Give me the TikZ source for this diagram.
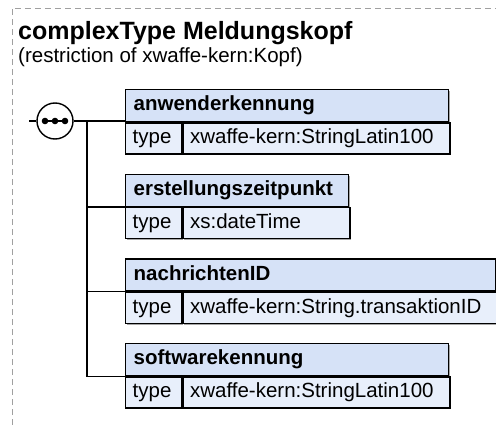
\documentclass[tikz,border=0pt]{standalone}
\usepackage{fontspec}
\setmainfont{Liberation Sans}
\usepackage{tikz}
\usetikzlibrary{positioning,shadows}
\usepackage{xcolor}
\definecolor{azulcab}{RGB}{214,226,247}
\definecolor{azultipo}{RGB}{232,239,251}
\definecolor{marco}{RGB}{160,160,160}

\tikzset{
  cabecera/.style={draw, line width=1.4pt, fill=azulcab, anchor=north west,
    minimum height=32pt, inner xsep=8pt, inner ysep=0pt, align=left,
    text height=15pt, text depth=4.5pt,
    font=\bfseries\fontsize{20.5}{24}\selectfont,
    general shadow={fill=gray!70, shadow xshift=1.2pt, shadow yshift=-1.2pt}},
  celda/.style={draw, line width=1.4pt, fill=azultipo, anchor=north west,
    minimum height=31pt, inner xsep=7pt, inner ysep=0pt, align=left,
    text height=15pt, text depth=4.5pt,
    font=\fontsize{20.5}{24}\selectfont,
    general shadow={fill=gray!70, shadow xshift=1.2pt, shadow yshift=-1.2pt}},
  linea/.style={line width=1.4pt}
}

\begin{document}
\begin{tikzpicture}[x=1pt,y=-1pt]
  \useasboundingbox (0,0) rectangle (496,425);
  % Marco punteado
  \draw[marco, line width=0.9pt, dash pattern=on 6pt off 4pt] (12,425) -- (12,8) -- (496,8);

  % Titulo
  \node[anchor=base west, inner sep=0pt, font=\bfseries\fontsize{25}{30}\selectfont] (titulo) at (18,40) {complexType Meldungskopf};
  \node[anchor=base west, inner sep=0pt, font=\fontsize{20.5}{24}\selectfont] (subtitulo) at (18,63) {(restriction of xwaffe-kern:Kopf)};

  % Secuencia
  \coordinate (ini) at (29,121);
  \node[draw, circle, linea, fill=white, minimum size=36pt, inner sep=0pt] (sec) at (55,121) {};
  \draw[linea] ([xshift=-13pt]sec.center) -- ([xshift=13pt]sec.center);
  \foreach \dx in {-10,0,10}
    \fill ([xshift=\dx pt]sec.center) circle (3.3pt);
  \coordinate (bus) at (87,121);

  % Elementos
  \foreach \etiq/\tipo/\ancho [count=\i] in {
      anwenderkennung/xwaffe-kern:StringLatin100/323,
      erstellungszeitpunkt/xs:dateTime/223,
      nachrichtenID/xwaffe-kern:String.transaktionID/370,
      softwarekennung/xwaffe-kern:StringLatin100/323} {
    \pgfmathsetmacro\y{89+84.67*(\i-1)}
    \pgfmathsetmacro\anchoa{\ancho-16}
    \pgfmathsetmacro\anchob{\ancho-56-14}
    \node[cabecera, text width=\anchoa pt] (h\i) at (125,\y) {\etiq};
    \node[celda, text width=42pt] (t\i) at (h\i.south west) {type};
    \node[celda, text width=\anchob pt] (v\i) at (t\i.north east) {\tipo};
  }

  % Conectores
  \draw[linea] (ini) -- (sec.west);
  \draw[linea] (sec.east) -- (sec.east -| h1.west);
  \draw[linea] (bus) |- (h4.south west);
  \foreach \i in {2,3}
    \draw[linea] (bus |- h\i.south west) -- (h\i.south west);
\end{tikzpicture}
\end{document}
